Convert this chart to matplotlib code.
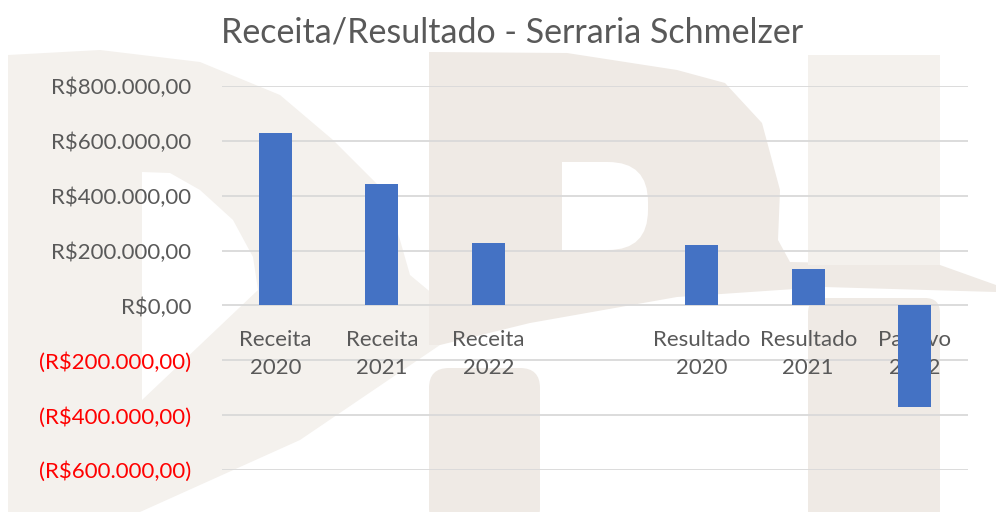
import numpy as np
import matplotlib.pyplot as plt
from matplotlib.patches import Polygon, Rectangle, FancyBboxPatch

categories = ["Receita\n2020", "Receita\n2021", "Receita\n2022", "",
              "Resultado\n2020", "Resultado\n2021", "Passivo\n2022"]
values = [630000, 444000, 229000, np.nan, 219000, 131000, -372000]
yticks = [-600000, -400000, -200000, 0, 200000, 400000, 600000, 800000]

plt.rcParams['font.family'] = ['Lato', 'DejaVu Sans']
gray = '#595959'


def brl(v):
    s = f"{abs(v):,.2f}".replace(",", "X").replace(".", ",").replace("X", ".")
    return f"(R${s})" if v < 0 else f"R${s}"


fig = plt.figure(figsize=(9.96, 5.12), dpi=100)

# faint "DPI" watermark behind the chart (pixel coords)
bg = fig.add_axes([0, 0, 1, 1], zorder=0)
bg.set_xlim(0, 996)
bg.set_ylim(512, 0)
bg.axis('off')
beige = '#EFEAE5'
light = '#F4F1ED'
d_outer = [(8, 55), (100, 50), (200, 62), (280, 95), (333, 140), (383, 190),
           (400, 240), (410, 275), (440, 300), (440, 345), (300, 440),
           (140, 512), (8, 512)]
d_hole = [(142, 172), (170, 173), (200, 190), (233, 220), (253, 257),
          (258, 290), (142, 400)]
bg.add_patch(Polygon(d_outer, closed=True, fc=light, ec='none'))
bg.add_patch(Polygon(d_hole, closed=True, fc='white', ec='none'))
p_shape = [(429, 52), (567, 53), (677, 70), (725, 83), (762, 123), (780, 190),
           (778, 240), (790, 262), (940, 265), (996, 285), (996, 292),
           (824, 287), (677, 297), (530, 323), (440, 345), (429, 345)]
bg.add_patch(Polygon(p_shape, closed=True, fc=beige, ec='none'))
bg.add_patch(FancyBboxPatch((562, 162), 86, 88, boxstyle="round,pad=0,rounding_size=40",
                            fc='white', ec='none'))
bg.add_patch(FancyBboxPatch((562, 162), 40, 88, boxstyle="square,pad=0",
                            fc='white', ec='none'))
bg.add_patch(FancyBboxPatch((429, 368), 111, 160, boxstyle="round,pad=0,rounding_size=20",
                            fc=beige, ec='none'))
bg.add_patch(Rectangle((808, 55), 132, 210, fc=light, ec='none'))
bg.add_patch(FancyBboxPatch((808, 298), 132, 230, boxstyle="round,pad=0,rounding_size=15",
                            fc=beige, ec='none'))

ax = fig.add_axes([222 / 996, 42 / 512, 746 / 996, 384 / 512], zorder=1)
ax.patch.set_alpha(0)
ax.spines['bottom'].set_position(('data', 0))
for s in ax.spines.values():
    s.set_visible(False)

x = np.arange(len(categories))
for yv in yticks:
    ax.axhline(yv, color='#D9D9D9', linewidth=1.3, zorder=1)
ax.bar(x, values, width=0.31, color='#4472C4', zorder=2)

ax.set_ylim(-600000, 800000)
ax.set_xlim(-0.5, len(categories) - 0.5)
ax.set_yticks(yticks)
ax.set_yticklabels([brl(v) for v in yticks], fontsize=16)
for lbl, v in zip(ax.get_yticklabels(), yticks):
    lbl.set_color('#FF0000' if v < 0 else gray)
ax.tick_params(axis='y', length=0, pad=22)

ax.set_xticks(x)
ax.set_xticklabels(categories, color=gray, fontsize=16, linespacing=1.5)
ax.tick_params(axis='x', length=0, pad=18)

fig.text(0.514, 1 - 33 / 512, "Receita/Resultado - Serraria Schmelzer",
         ha='center', va='center', fontsize=24.5, color=gray)

fig.savefig("out.png", dpi=100)
